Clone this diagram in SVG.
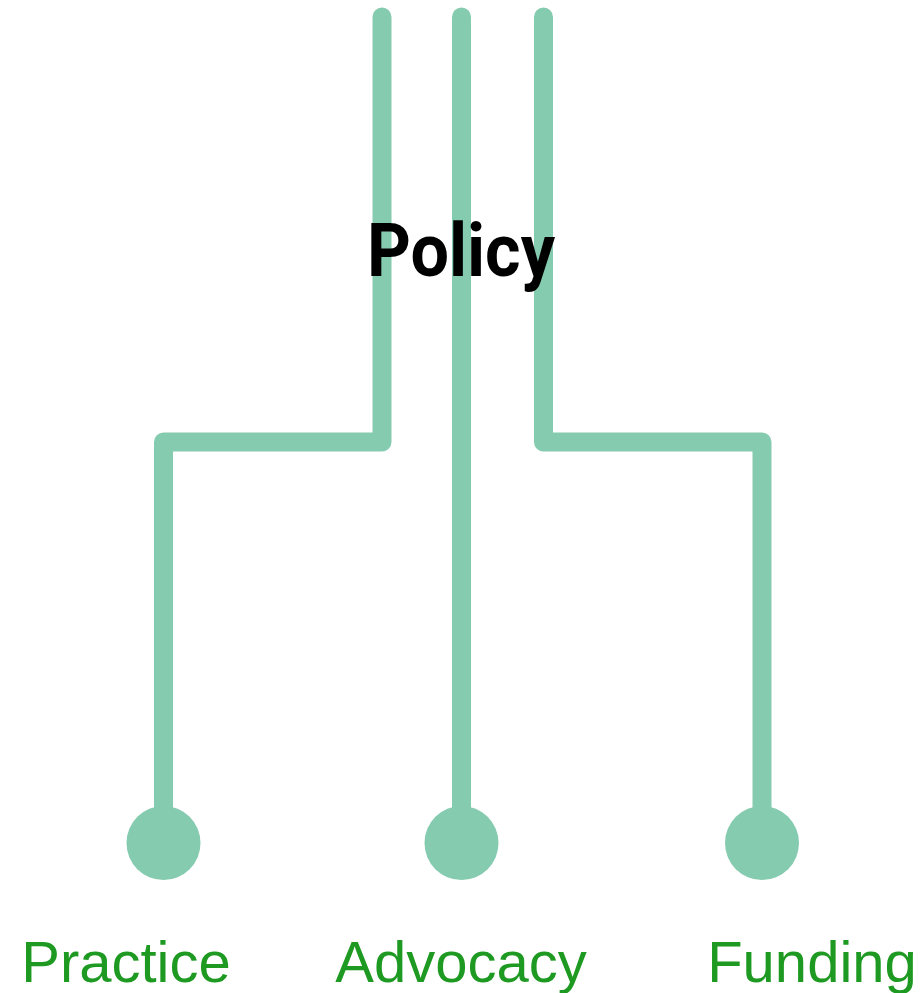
<svg xmlns="http://www.w3.org/2000/svg" width="924" height="993" viewBox="0 0 924 993">
  <style>
    .branch { fill: none; stroke: #85cbb0; stroke-width: 19; stroke-linecap: round; stroke-linejoin: round; }
    .leaf { fill: #85cbb0; }
    .label { font-family: "Liberation Sans", Arial, sans-serif; font-size: 58px; fill: #1e9a22; text-anchor: middle; }
    .title { font-family: Roboto, "Liberation Sans", sans-serif; font-weight: bold; font-size: 74px; fill: #000; text-anchor: middle; }
  </style>
  <rect width="924" height="993" fill="#ffffff"/>
  <g id="connectors">
    <path class="branch" d="M382,17 V442 H163.5 V840"/>
    <path class="branch" d="M461.5,17 V840"/>
    <path class="branch" d="M543.5,17 V442 H762 V840"/>
  </g>
  <g id="policy">
    <text class="title" x="461" y="276" textLength="188" lengthAdjust="spacingAndGlyphs">Policy</text>
  </g>
  <g id="practice">
    <circle class="leaf" cx="163.5" cy="843" r="37"/>
    <text class="label" x="126" y="982">Practice</text>
  </g>
  <g id="advocacy">
    <circle class="leaf" cx="461.5" cy="843" r="37"/>
    <text class="label" x="461" y="982">Advocacy</text>
  </g>
  <g id="funding">
    <circle class="leaf" cx="762" cy="843" r="37"/>
    <text class="label" x="812" y="982">Funding</text>
  </g>
</svg>
